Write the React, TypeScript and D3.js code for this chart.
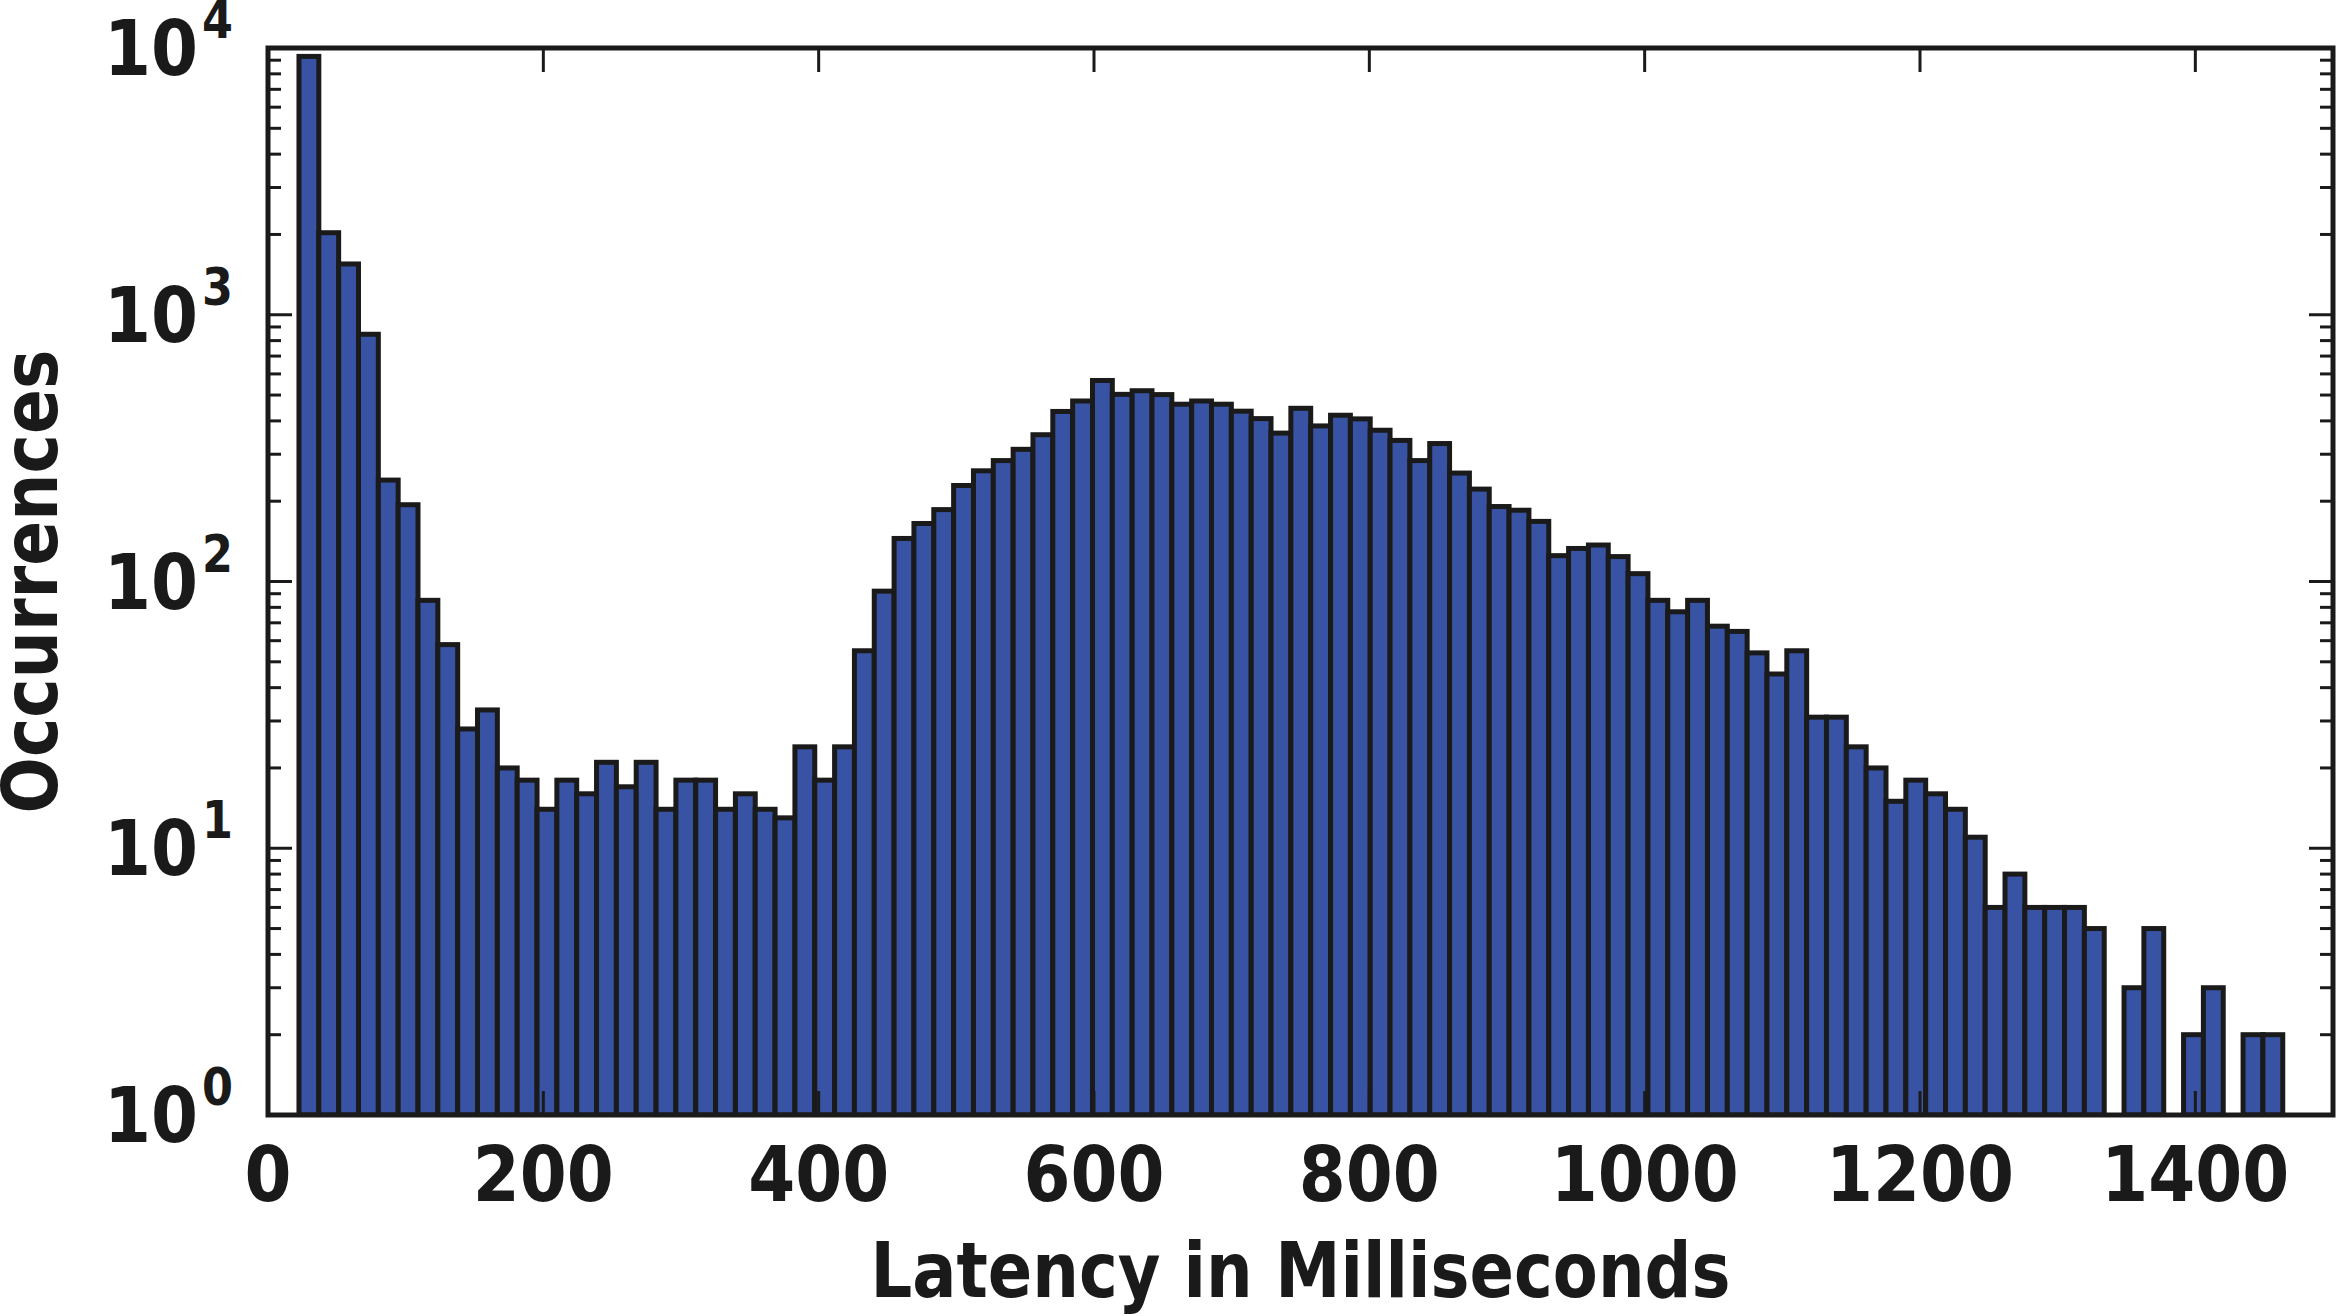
import React from 'react';
import * as d3 from 'd3';

// Histogram counts per bin (100 equal bins between latencyMin and latencyMax)
const counts: number[] = [
  9300, 2030, 1550, 845, 240, 194, 85, 58, 28, 33,
  20, 18, 14, 18, 16, 21, 17, 21, 14, 18,
  18, 14, 16, 14, 13, 24, 18, 24, 55, 92,
  145, 165, 186, 229, 260, 284, 313, 355, 434, 475,
  567, 503, 519, 502, 462, 475, 462, 435, 408, 360,
  446, 383, 420, 407, 369, 338, 284, 329, 255, 222,
  191, 185, 168, 125, 133, 137, 124, 107, 85, 77,
  85, 68, 65, 54, 45, 55, 31, 31, 24, 20,
  15, 18, 16, 14, 11, 6, 8, 6, 6, 6,
  5, 0, 3, 5, 0, 2, 3, 0, 2, 2,
];
const latencyMin = 22.5;
const latencyMax = 1463.5;
const xDomain = [0, 1500];
const xTicks = [0, 200, 400, 600, 800, 1000, 1200, 1400];
const yExponents = [0, 1, 2, 3, 4];
const xLabel = 'Latency in Milliseconds';
const yLabel = 'Occurrences';

const W = 2338;
const H = 1316;
const L = 268;
const R = 2333;
const T = 48;
const B = 1115;

const FONT = "'DejaVu Sans', sans-serif";
const INK = '#1a1a1a';
const FILL = '#3953a4';
const DIGIT = 47;
const SUPDIGIT = 31;

export default function App() {
  const x = d3.scaleLinear().domain(xDomain).range([L, R]);
  const y = d3.scaleLog().domain([1, 1e4]).range([B, T]);
  const binW = (latencyMax - latencyMin) / counts.length;

  const minorVals: number[] = [];
  for (let e = 0; e < 4; e++) for (let m = 2; m <= 9; m++) minorVals.push(m * Math.pow(10, e));

  const majorLen = 24;
  const minorLen = 13;

  return (
    <svg
      width={W}
      height={H}
      viewBox={`0 0 ${W} ${H}`}
      style={{ position: 'fixed', left: 0, top: 0, background: '#fff' }}
    >
      <defs>
        <clipPath id="plot">
          <rect x={L} y={T} width={R - L} height={B - T} />
        </clipPath>
      </defs>
      <rect x={0} y={0} width={W} height={H} fill="#fff" />
      <g clipPath="url(#plot)">
        {counts.map((c, i) => {
          if (c <= 0) return null;
          const x0 = x(latencyMin + i * binW);
          const x1 = x(latencyMin + (i + 1) * binW);
          const yt = y(c);
          return (
            <rect
              key={i}
              x={x0}
              y={yt}
              width={x1 - x0}
              height={y(1) - yt}
              fill={FILL}
              stroke={INK}
              strokeWidth={5}
            />
          );
        })}
      </g>
      {/* x ticks bottom and top */}
      {xTicks.map((t) => (
        <g key={'xt' + t}>
          <line x1={x(t)} x2={x(t)} y1={B} y2={B - majorLen} stroke={INK} strokeWidth={3} />
          <line x1={x(t)} x2={x(t)} y1={T} y2={T + majorLen} stroke={INK} strokeWidth={3} />
        </g>
      ))}
      {/* y major ticks */}
      {yExponents.map((e) => (
        <g key={'yt' + e}>
          <line x1={L} x2={L + majorLen} y1={y(Math.pow(10, e))} y2={y(Math.pow(10, e))} stroke={INK} strokeWidth={3} />
          <line x1={R} x2={R - majorLen} y1={y(Math.pow(10, e))} y2={y(Math.pow(10, e))} stroke={INK} strokeWidth={3} />
        </g>
      ))}
      {minorVals.map((v) => (
        <g key={'ym' + v}>
          <line x1={L} x2={L + minorLen} y1={y(v)} y2={y(v)} stroke={INK} strokeWidth={3} />
          <line x1={R} x2={R - minorLen} y1={y(v)} y2={y(v)} stroke={INK} strokeWidth={3} />
        </g>
      ))}
      <rect x={L} y={T} width={R - L} height={B - T} fill="none" stroke={INK} strokeWidth={5} />

      {/* x tick labels */}
      {xTicks.map((t) => {
        const s = String(t);
        const len = s.length * DIGIT;
        return (
          <text
            key={'xl' + t}
            x={x(t) - len / 2}
            y={B + 86}
            fontFamily={FONT}
            fontWeight="bold"
            fontSize={76}
            fill={INK}
            textLength={len}
            lengthAdjust="spacingAndGlyphs"
          >
            {s}
          </text>
        );
      })}
      {/* y tick labels */}
      {yExponents.map((e) => {
        const yy = y(Math.pow(10, e));
        const supEnd = L - 35;
        const supLen = String(e).length * SUPDIGIT;
        const baseLen = 2 * DIGIT;
        const baseEnd = supEnd - supLen - 4;
        return (
          <g key={'yl' + e}>
            <text
              x={baseEnd - baseLen}
              y={yy + 27}
              fontFamily={FONT}
              fontWeight="bold"
              fontSize={76}
              fill={INK}
              textLength={baseLen}
              lengthAdjust="spacingAndGlyphs"
            >
              10
            </text>
            <text
              x={supEnd - supLen}
              y={yy - 10}
              fontFamily={FONT}
              fontWeight="bold"
              fontSize={51}
              fill={INK}
              textLength={supLen}
              lengthAdjust="spacingAndGlyphs"
            >
              {String(e)}
            </text>
          </g>
        );
      })}
      {/* axis labels */}
      <text
        x={(L + R) / 2 - 430}
        y={1297}
        fontFamily={FONT}
        fontWeight="bold"
        fontSize={76}
        fill={INK}
        textLength={860}
        lengthAdjust="spacingAndGlyphs"
      >
        {xLabel}
      </text>
      <text
        transform={`translate(57, ${(T + B) / 2 + 232}) rotate(-90)`}
        x={0}
        y={0}
        fontFamily={FONT}
        fontWeight="bold"
        fontSize={76}
        fill={INK}
        textLength={464}
        lengthAdjust="spacingAndGlyphs"
      >
        {yLabel}
      </text>
    </svg>
  );
}
